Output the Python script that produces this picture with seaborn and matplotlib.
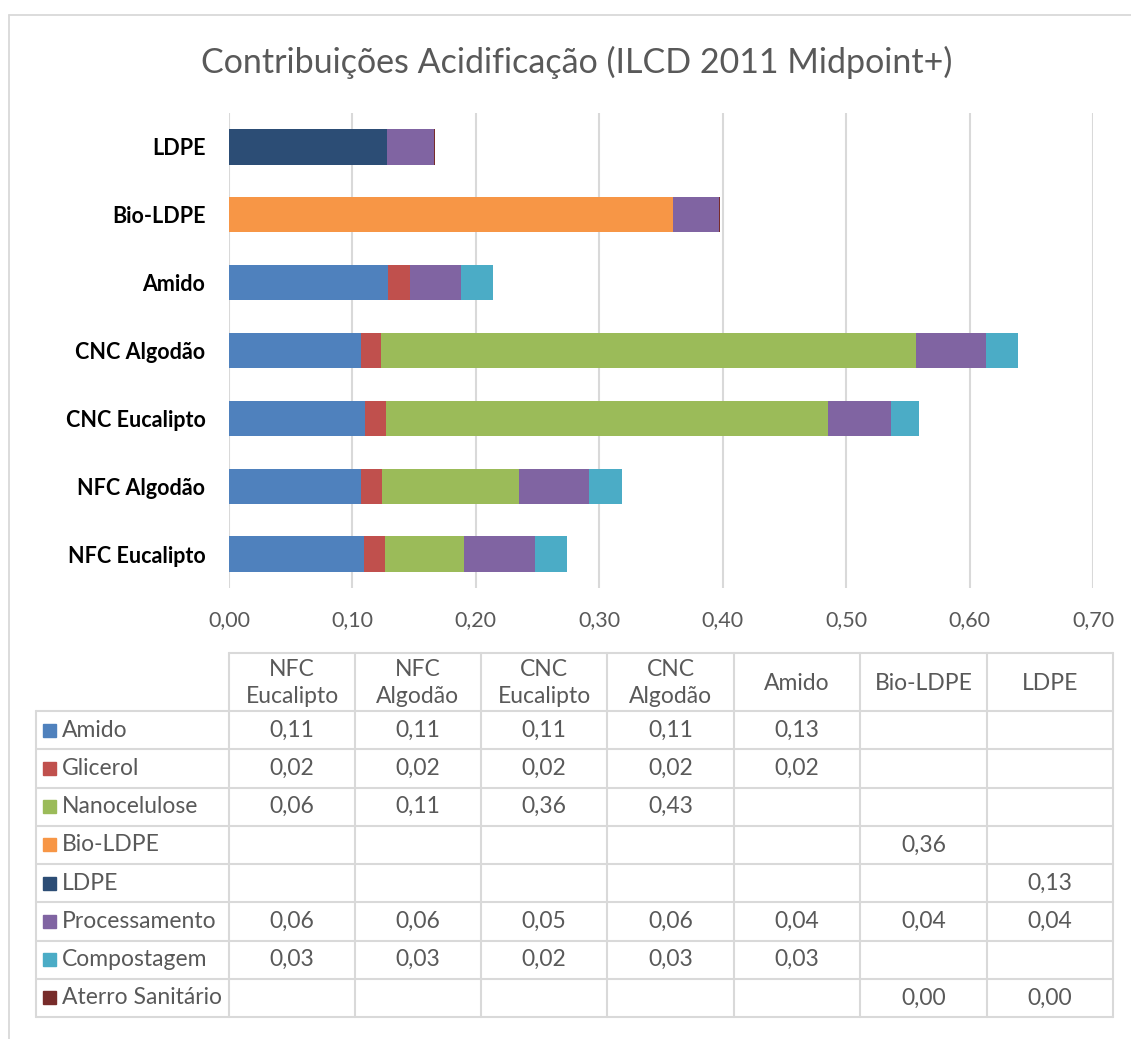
import numpy as np
import pandas as pd
import matplotlib
matplotlib.use("Agg")
import matplotlib.pyplot as plt
import seaborn as sns

sns.set_theme(style="white")
plt.rcParams['font.family'] = ['Lato', 'DejaVu Sans']

# Scenarios in table column order
scenarios = ["NFC Eucalipto", "NFC Algodão", "CNC Eucalipto", "CNC Algodão",
             "Amido", "Bio-LDPE", "LDPE"]
header_labels = ["NFC\nEucalipto", "NFC\nAlgodão", "CNC\nEucalipto", "CNC\nAlgodão",
                 "Amido", "Bio-LDPE", "LDPE"]
# Bar order, top to bottom
bar_order = ["LDPE", "Bio-LDPE", "Amido", "CNC Algodão", "CNC Eucalipto",
             "NFC Algodão", "NFC Eucalipto"]

series = ["Amido", "Glicerol", "Nanocelulose", "Bio-LDPE", "LDPE",
          "Processamento", "Compostagem", "Aterro Sanitário"]
colors = ["#4F81BD", "#C0504D", "#9BBB59", "#F79646", "#2C4D75",
          "#8064A2", "#4BACC6", "#772C2A"]

nan = np.nan
amido = [0.109, 0.107, 0.110, 0.107, 0.129, nan, nan]
glicerol = [0.017, 0.017, 0.017, 0.016, 0.018, nan, nan]
nanocelulose = [0.064, 0.111, 0.358, 0.434, nan, nan, nan]
bio_ldpe = [nan, nan, nan, nan, nan, 0.360, nan]
ldpe = [nan, nan, nan, nan, nan, nan, 0.128]
processamento = [0.058, 0.057, 0.051, 0.056, 0.041, 0.037, 0.038]
compostagem = [0.026, 0.026, 0.023, 0.026, 0.026, nan, nan]
aterro = [nan, nan, nan, nan, nan, 0.001, 0.001]

values = [amido, glicerol, nanocelulose, bio_ldpe, ldpe,
          processamento, compostagem, aterro]

W, H = 1131, 1039
fig = plt.figure(figsize=(W / 100, H / 100), dpi=100)
fig.patch.set_facecolor("white")

# Background layer in pixel coordinates: frame and data table
bg = fig.add_axes([0, 0, 1, 1])
bg.set_xlim(0, W)
bg.set_ylim(H, 0)
bg.axis("off")

grid_c = "#D9D9D9"
text_c = "#595959"

# chart frame (left and top edges)
bg.plot([9, 9], [15, H], color=grid_c, lw=1.3)
bg.plot([9, W], [15, 15], color=grid_c, lw=1.3)

# Stacked horizontal bars
ax = fig.add_axes([229 / W, 1 - 588 / H, (1093 - 229) / W, (588 - 113) / H])
df = pd.DataFrame({name: vals for name, vals in zip(series, values)}, index=scenarios)
cum = df.fillna(0).cumsum(axis=1)
for i in range(len(series) - 1, -1, -1):
    d = pd.DataFrame({"scenario": scenarios, "value": cum.iloc[:, i].values})
    sns.barplot(data=d, x="value", y="scenario", order=bar_order, orient="h",
                color=colors[i], width=0.52, saturation=1, linewidth=0,
                ax=ax, zorder=3)

ax.set_xlim(0, 0.70)
ax.set_ylim(6.5, -0.5)
ticks = np.arange(0, 0.71, 0.10)
ax.set_xticks(ticks)
ax.set_xticklabels([f"{t:.2f}".replace(".", ",") for t in ticks])
ax.set_xlabel("")
ax.set_ylabel("")
ax.grid(axis="x", color=grid_c, lw=1.5, zorder=0)
ax.set_axisbelow(True)
for s in ax.spines.values():
    s.set_visible(False)
ax.tick_params(axis="x", length=0, pad=16, labelsize=15.5, labelcolor=text_c)
ax.tick_params(axis="y", length=0, pad=17, labelsize=15.5, labelcolor="black")
for lab in ax.get_yticklabels():
    lab.set_fontweight("bold")
ax.set_facecolor("none")

fig.text(0.5 * (205 + 948) / W, 1 - 62 / H, "Contribuições Acidificação (ILCD 2011 Midpoint+)",
         ha="center", va="center", fontsize=24.5, color=text_c)

# Data table
col_edges = [36, 229, 355, 481, 607, 734, 860, 987, 1113]
head_top, head_bot = 653, 711
row_h = (1017 - 711) / 8
row_edges = [head_bot + k * row_h for k in range(9)]
lw_t = 1.5

bg.plot([229, 1113], [head_top, head_top], color=grid_c, lw=lw_t)
for x in col_edges[1:]:
    bg.plot([x, x], [head_top, row_edges[-1]], color=grid_c, lw=lw_t)
bg.plot([36, 36], [head_bot, row_edges[-1]], color=grid_c, lw=lw_t)
for y in row_edges:
    bg.plot([36, 1113], [y, y], color=grid_c, lw=lw_t)

fs_t = 16.5
for j, lab in enumerate(header_labels):
    xc = 0.5 * (col_edges[j + 1] + col_edges[j + 2])
    bg.text(xc, 0.5 * (head_top + head_bot) + 1, lab, ha="center", va="center",
            fontsize=fs_t, color=text_c, linespacing=1.3)

for i, name in enumerate(series):
    yc = 0.5 * (row_edges[i] + row_edges[i + 1])
    bg.add_patch(plt.Rectangle((43, yc - 6.5), 13, 13, color=colors[i]))
    bg.text(62, yc, name, ha="left", va="center", fontsize=fs_t, color=text_c)
    for j, v in enumerate(values[i]):
        if np.isnan(v):
            continue
        xc = 0.5 * (col_edges[j + 1] + col_edges[j + 2])
        bg.text(xc, yc, f"{v:.2f}".replace(".", ","), ha="center", va="center",
                fontsize=fs_t, color=text_c)

fig.savefig("out.png", dpi=100)
